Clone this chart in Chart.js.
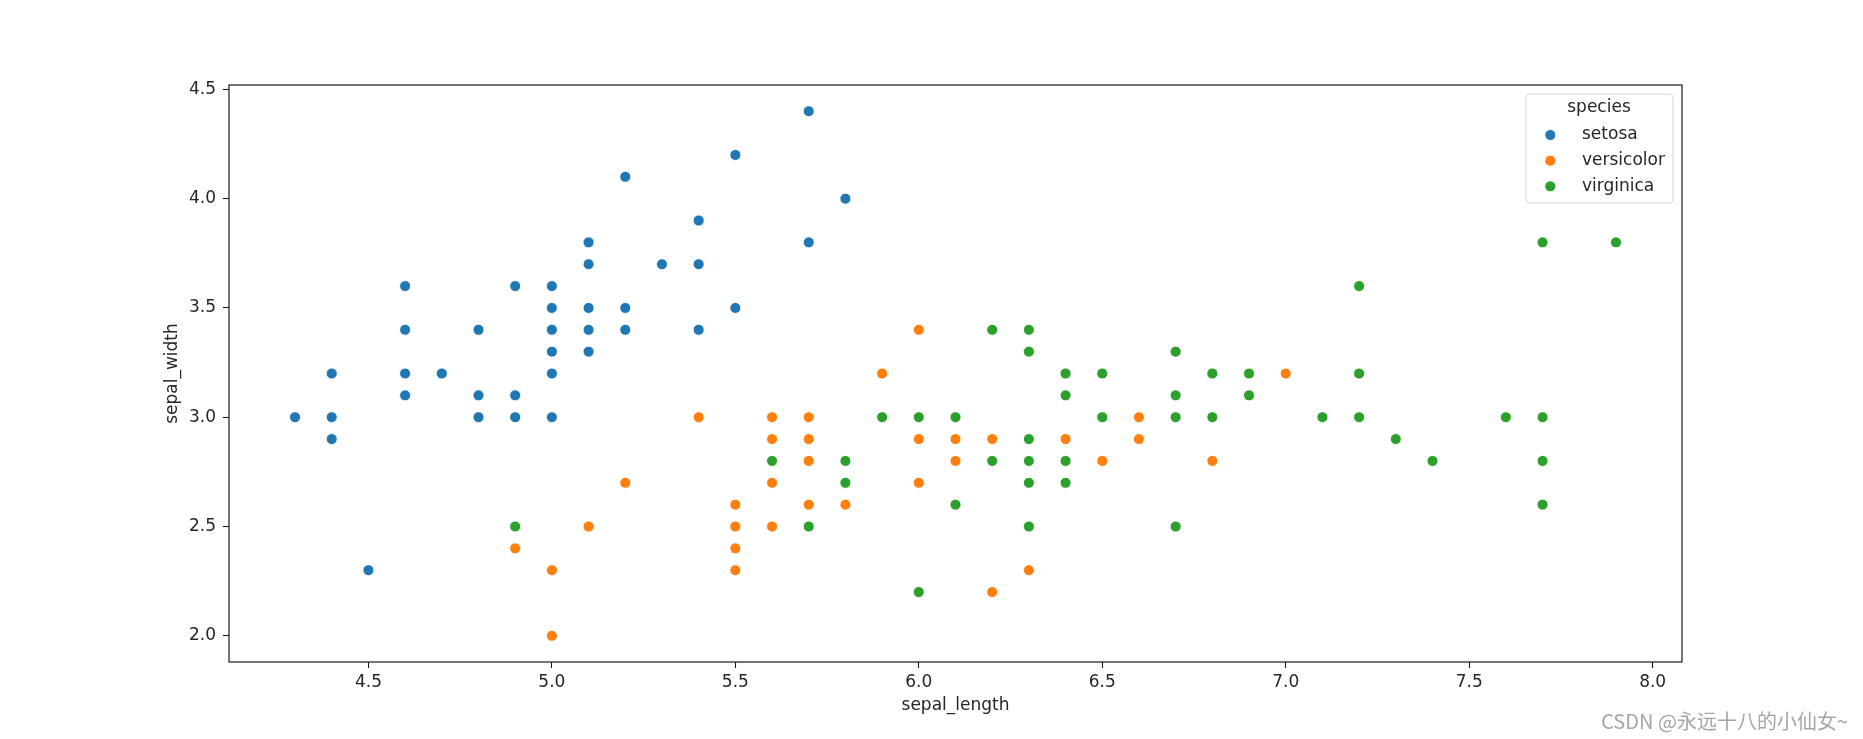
<!DOCTYPE html>
<html>
<head>
<meta charset="utf-8">
<script src="https://cdn.jsdelivr.net/npm/chart.js@4/dist/chart.umd.min.js"></script>
<style>
  html, body { margin:0; padding:0; background:#fff; }
  canvas { display:block; }
</style>
</head>
<body>
<canvas id="chart" width="1863" height="739"></canvas>
<script>
// iris: sepal_length / sepal_width par espécie
const SPECIES = ['setosa', 'versicolor', 'virginica'];
const COLORS = ['#1f77b4', '#ff7f0e', '#2ca02c'];

const setosaX = [5.1,4.9,4.7,4.6,5.0,5.4,4.6,5.0,4.4,4.9,5.4,4.8,4.8,4.3,5.8,5.7,5.4,5.1,5.7,5.1,5.4,5.1,4.6,5.1,4.8,5.0,5.0,5.2,5.2,4.7,4.8,5.4,5.2,5.5,4.9,5.0,5.5,4.9,4.4,5.1,5.0,4.5,4.4,5.0,5.1,4.8,5.1,4.6,5.3,5.0];
const setosaY = [3.5,3.0,3.2,3.1,3.6,3.9,3.4,3.4,2.9,3.1,3.7,3.4,3.0,3.0,4.0,4.4,3.9,3.5,3.8,3.8,3.4,3.7,3.6,3.3,3.4,3.0,3.4,3.5,3.4,3.2,3.1,3.4,4.1,4.2,3.1,3.2,3.5,3.6,3.0,3.4,3.5,2.3,3.2,3.5,3.8,3.0,3.8,3.2,3.7,3.3];

const versicolorX = [7.0,6.4,6.9,5.5,6.5,5.7,6.3,4.9,6.6,5.2,5.0,5.9,6.0,6.1,5.6,6.7,5.6,5.8,6.2,5.6,5.9,6.1,6.3,6.1,6.4,6.6,6.8,6.7,6.0,5.7,5.5,5.5,5.8,6.0,5.4,6.0,6.7,6.3,5.6,5.5,5.5,6.1,5.8,5.0,5.6,5.7,5.7,6.2,5.1,5.7];
const versicolorY = [3.2,3.2,3.1,2.3,2.8,2.8,3.3,2.4,2.9,2.7,2.0,3.0,2.2,2.9,2.9,3.1,3.0,2.7,2.2,2.5,3.2,2.8,2.5,2.8,2.9,3.0,2.8,3.0,2.9,2.6,2.4,2.4,2.7,2.7,3.0,3.4,3.1,2.3,3.0,2.5,2.6,3.0,2.6,2.3,2.7,3.0,2.9,2.9,2.5,2.8];

const virginicaX = [6.3,5.8,7.1,6.3,6.5,7.6,4.9,7.3,6.7,7.2,6.5,6.4,6.8,5.7,5.8,6.4,6.5,7.7,7.7,6.0,6.9,5.6,7.7,6.3,6.7,7.2,6.2,6.1,6.4,7.2,7.4,7.9,6.4,6.3,6.1,7.7,6.3,6.4,6.0,6.9,6.7,6.9,5.8,6.8,6.7,6.7,6.3,6.5,6.2,5.9];
const virginicaY = [3.3,2.7,3.0,2.9,3.0,3.0,2.5,2.9,2.5,3.6,3.2,2.7,3.0,2.5,2.8,3.2,3.0,3.8,2.6,2.2,3.2,2.8,2.8,2.7,3.3,3.2,2.8,3.0,2.8,3.0,2.8,3.8,2.8,2.8,2.6,3.0,3.4,3.1,3.0,3.1,3.1,3.1,2.7,3.2,3.3,3.0,2.5,3.0,3.4,3.0];

const X_TICKS = [4.5, 5.0, 5.5, 6.0, 6.5, 7.0, 7.5, 8.0];
const Y_TICKS = [2.0, 2.5, 3.0, 3.5, 4.0, 4.5];

const FONT = 'DejaVu Sans';
const TXT = '#262626';

function pts(xs, ys){ return xs.map((x,i)=>({ x, y: ys[i] })); }

const seriesX = [setosaX, versicolorX, virginicaX];
const seriesY = [setosaY, versicolorY, virginicaY];

// ordem: virginica por cima, como no seaborn
const datasets = SPECIES.map((name,i)=>({
  label: name,
  data: pts(seriesX[i], seriesY[i]),
  backgroundColor: COLORS[i],
  borderColor: '#ffffff',
  borderWidth: 0.9,
  pointRadius: 5.5,
  pointHoverRadius: 5.5,
  order: SPECIES.length - i
}));

// moldura em volta da área do gráfico
const framePlugin = {
  id: 'frame',
  afterDatasetsDraw(chart){
    const { ctx, chartArea: a } = chart;
    ctx.save();
    ctx.strokeStyle = '#1a1a1a';
    ctx.lineWidth = 1.2;
    ctx.strokeRect(a.left, a.top, a.right - a.left, a.bottom - a.top);
    ctx.restore();
  }
};

// legenda estilo seaborn dentro do gráfico
const legendPlugin = {
  id: 'seabornLegend',
  afterDraw(chart){
    const ctx = chart.ctx;
    const bx = 1526, by = 94, bw = 147, bh = 109;
    ctx.save();
    ctx.beginPath();
    ctx.roundRect(bx, by, bw, bh, 4);
    ctx.fillStyle = 'rgba(255,255,255,0.8)';
    ctx.fill();
    ctx.strokeStyle = '#d6d6d6';
    ctx.lineWidth = 1;
    ctx.stroke();
    ctx.font = `17px "${FONT}"`;
    ctx.fillStyle = TXT;
    ctx.textBaseline = 'middle';
    ctx.textAlign = 'center';
    ctx.fillText('species', 1599, 108);
    ctx.textAlign = 'left';
    const rows = [135, 160.7, 186.3];
    SPECIES.forEach((name,i)=>{
      ctx.beginPath();
      ctx.arc(1550.3, rows[i], 5.5, 0, Math.PI*2);
      ctx.fillStyle = COLORS[i];
      ctx.fill();
      ctx.strokeStyle = '#fff';
      ctx.lineWidth = 0.9;
      ctx.stroke();
      ctx.fillStyle = TXT;
      ctx.fillText(name, 1582, rows[i]);
    });
    // marca d'água
    ctx.font = '20px "Noto Sans CJK SC"';
    ctx.fillStyle = '#a6a6a6';
    ctx.textAlign = 'right';
    ctx.fillText('CSDN @永远十八的小仙女~', 1848, 721);
    ctx.restore();
  }
};

new Chart(document.getElementById('chart'), {
  type: 'scatter',
  data: { datasets },
  options: {
    responsive: false,
    animation: false,
    layout: { padding: { left: 162, top: 85, right: 181, bottom: 23 } },
    plugins: { legend: { display: false }, tooltip: { enabled: false } },
    scales: {
      x: {
        type: 'linear',
        min: 4.12, max: 8.08,
        afterBuildTicks: axis => { axis.ticks = X_TICKS.map(v=>({ value: v })); },
        afterFit: axis => { axis.height = 54; },
        grid: { display: true, drawOnChartArea: false, tickLength: 6, tickColor: '#1a1a1a', tickWidth: 1.1 },
        border: { display: false },
        ticks: { color: TXT, font: { family: FONT, size: 17 }, padding: 4, maxRotation: 0, autoSkip: false,
                 callback: v => v.toFixed(1) },
        title: { display: true, text: 'sepal_length', color: TXT, font: { family: FONT, size: 17 }, padding: 0 }
      },
      y: {
        type: 'linear',
        min: 1.88, max: 4.52,
        afterBuildTicks: axis => { axis.ticks = Y_TICKS.map(v=>({ value: v })); },
        afterFit: axis => { axis.width = 67; },
        grid: { display: true, drawOnChartArea: false, tickLength: 6, tickColor: '#1a1a1a', tickWidth: 1.1 },
        border: { display: false },
        ticks: { color: TXT, font: { family: FONT, size: 17 }, padding: 7, autoSkip: false,
                 callback: v => v.toFixed(1) },
        title: { display: true, text: 'sepal_width', color: TXT, font: { family: FONT, size: 17 }, padding: 0 }
      }
    }
  },
  plugins: [framePlugin, legendPlugin]
});
</script>
</body>
</html>
